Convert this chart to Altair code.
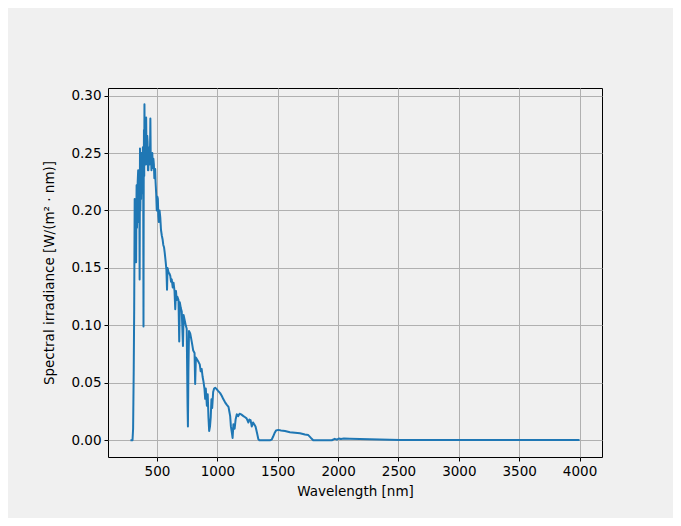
import altair as alt
import pandas as pd

wavelength = [
    280, 297, 302, 307, 311, 315, 317, 319, 321, 323, 325, 327, 329, 331, 334, 337, 340, 344, 347, 350,
    353, 356, 359, 362, 365, 368, 370, 373, 376, 380, 383, 386, 388, 390, 392, 394, 396, 398, 400, 403,
    405, 408, 410, 413, 416, 419, 422, 425, 428, 431, 435, 438, 440, 443, 445, 448, 450, 454,
    457, 461, 465, 470, 474, 478, 482, 485, 488, 493, 498, 503, 507, 511, 515, 521, 527, 533, 540, 546,
    552, 558, 564, 569, 573, 578, 583, 587, 596,
    603, 610, 616, 622, 630, 637, 645, 651, 657, 663, 668, 678, 684, 689, 697, 705, 715, 720, 730, 738,
    746, 753, 756, 760, 765, 775, 789, 800, 811, 816, 822, 833, 844, 854, 862, 870,
    878, 885, 893, 899, 904, 913, 920, 926, 932, 939, 945, 951, 957, 965, 973, 982,
    994, 1006, 1023, 1037, 1050, 1064, 1077, 1092, 1099, 1106, 1112, 1120, 1126, 1133,
    1143, 1151, 1161, 1172, 1184, 1197, 1216, 1230, 1242, 1257, 1265, 1275, 1285, 1296,
    1304, 1316, 1329, 1339, 1348, 1436, 1450, 1461, 1473, 1486, 1505, 1527, 1560, 1601,
    1643, 1684, 1725, 1753, 1775, 1794, 1948, 1972, 1990, 2006, 2023, 2048, 2097, 2180,
    2262, 2345, 2428, 2510, 3000, 3500, 4000,
]
irradiance = [
    0.0, 0.0, 0.01, 0.06, 0.115, 0.21, 0.17, 0.16, 0.2, 0.21, 0.165, 0.155, 0.2, 0.222, 0.185, 0.2, 0.225, 0.235, 0.19, 0.215,
    0.23, 0.14, 0.254, 0.2, 0.235, 0.21, 0.25, 0.215, 0.24, 0.22, 0.255, 0.21, 0.099, 0.23, 0.27, 0.23, 0.2925, 0.25, 0.24, 0.26,
    0.265, 0.24, 0.281, 0.25, 0.245, 0.265, 0.26, 0.235, 0.235, 0.25, 0.255, 0.24, 0.245, 0.26, 0.28, 0.245, 0.25, 0.235,
    0.24, 0.25, 0.237, 0.245, 0.24, 0.228, 0.23, 0.236, 0.225, 0.215, 0.2, 0.212, 0.21, 0.195, 0.19, 0.2, 0.194, 0.183, 0.178, 0.175,
    0.17, 0.168, 0.163, 0.158, 0.154, 0.148, 0.131, 0.15, 0.146,
    0.145, 0.143, 0.138, 0.14, 0.133, 0.137, 0.13, 0.114, 0.13, 0.122, 0.125, 0.122, 0.086, 0.12, 0.115, 0.112, 0.082, 0.109, 0.104, 0.1,
    0.097, 0.03, 0.012, 0.06, 0.095, 0.093, 0.085, 0.078, 0.076, 0.049, 0.072, 0.07, 0.068, 0.066, 0.06, 0.062,
    0.055, 0.051, 0.045, 0.036, 0.045, 0.03, 0.04, 0.02, 0.008, 0.012, 0.02, 0.0356, 0.028, 0.042, 0.045, 0.0457,
    0.0445, 0.043, 0.041, 0.0385, 0.0356, 0.033, 0.031, 0.029, 0.025, 0.021, 0.012, 0.0067, 0.002, 0.014,
    0.01, 0.018, 0.0226, 0.021, 0.023, 0.0225, 0.021, 0.02, 0.019, 0.0154, 0.018, 0.0175, 0.012, 0.0155,
    0.014, 0.012, 0.006, 0.001, 0.0, 0.0, 0.0005, 0.003, 0.006, 0.0085, 0.009, 0.0085, 0.008, 0.007,
    0.0065, 0.006, 0.005, 0.0045, 0.002, 0.0, 0.0, 0.0012, 0.0005, 0.0015, 0.001, 0.0015, 0.0013, 0.0011,
    0.0009, 0.0007, 0.0004, 0.0002, 0.0001, 0.0001, 0.0001,
]

x_ticks = [500, 1000, 1500, 2000, 2500, 3000, 3500, 4000]
y_ticks = [0.0, 0.05, 0.10, 0.15, 0.20, 0.25, 0.30]

df = pd.DataFrame({"wl": wavelength, "irr": irradiance})

font = "DejaVu Sans"

chart = alt.Chart(df).mark_line(color="#1f77b4", strokeWidth=2, strokeJoin="round").encode(
    x=alt.X(
        "wl:Q",
        scale=alt.Scale(domain=[94, 4186], nice=False, zero=False),
        axis=alt.Axis(
            values=x_ticks, title="Wavelength [nm]", format="d",
            tickSize=4, labelPadding=3, titlePadding=7,
        ),
    ),
    y=alt.Y(
        "irr:Q",
        scale=alt.Scale(domain=[-0.0146, 0.3066], nice=False, zero=False),
        axis=alt.Axis(
            values=y_ticks, title="Spectral irradiance [W/(m² · nm)]", format=".2f",
            tickSize=4, labelPadding=3, titlePadding=14,
        ),
    ),
).properties(
    width=494,
    height=369,
    autosize=alt.AutoSizeParams(type="none"),
    padding={"left": 100, "top": 80, "right": 71, "bottom": 61},
    background="#f0f0f0",
).configure_view(
    stroke="black", strokeWidth=1, fill="#f0f0f0"
).configure_axis(
    domain=False,
    grid=True,
    gridColor="#b0b0b0",
    gridWidth=1,
    tickColor="black",
    labelColor="black",
    titleColor="black",
    labelFont=font,
    titleFont=font,
    labelFontSize=13.5,
    titleFontSize=13.5,
    titleFontWeight="normal",
)

chart.save("out.html", embed_options={"renderer": "svg", "actions": False})
